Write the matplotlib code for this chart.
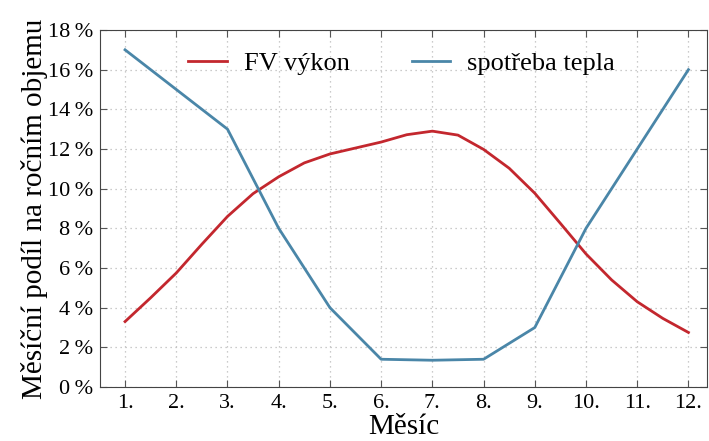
import matplotlib
matplotlib.use("Agg")
import matplotlib.pyplot as plt

# monthly values (%)
months = [1, 2, 3, 4, 5, 6, 7, 8, 9, 10, 11, 12]
month_labels = ["1.", "2.", "3.", "4.", "5.", "6.", "7.", "8.", "9.", "10.", "11.", "12."]
heat = [17.0, 15.0, 13.0, 8.0, 4.0, 1.4, 1.35, 1.4, 3.0, 8.0, 12.0, 16.0]

# PV curve read at half-month steps
pv_x = [1, 1.5, 2, 2.5, 3, 3.5, 4, 4.5, 5, 5.5, 6, 6.5, 7, 7.5, 8, 8.5,
        9, 9.5, 10, 10.5, 11, 11.5, 12]
pv = [3.3, 4.5, 5.75, 7.2, 8.6, 9.75, 10.6, 11.3, 11.75, 12.05, 12.35, 12.72,
      12.9, 12.7, 11.98, 11.03, 9.77, 8.25, 6.71, 5.4, 4.3, 3.46, 2.75]

yticks = [0, 2, 4, 6, 8, 10, 12, 14, 16, 18]

plt.rcParams['font.family'] = ['Liberation Serif', 'DejaVu Serif']

fig = plt.figure(figsize=(7.09, 4.41), dpi=100)
ax = fig.add_axes([0.141, 0.1224, 0.856, 0.8096])

ax.plot(pv_x, pv, color='#c3272e', lw=2.0, label='FV výkon')
ax.plot(months, heat, color='#4a86a8', lw=2.0, label='spotřeba tepla')

ax.set_xlim(0.51, 12.36)
ax.set_ylim(0, 18)
ax.set_xticks(months)
ax.set_xticklabels(month_labels)
ax.set_yticks(yticks)
ax.set_yticklabels([f"{v}\u2009%" for v in yticks])
ax.tick_params(direction='in', top=True, right=True, labelsize=16, length=5,
               color='#555555', pad=5)
ax.grid(True, ls=(0, (1, 3)), color='#bbbbbb', lw=0.9)
for s in ax.spines.values():
    s.set_color('#444444')

ax.set_xlabel("Měsíc", fontsize=21, labelpad=1)
ax.set_ylabel("Měsíční podíl na ročním objemu", fontsize=21, labelpad=0)

ax.legend(loc='upper center', ncol=2, frameon=False, fontsize=19,
          handlelength=1.45, handletextpad=0.65, columnspacing=2.35,
          bbox_to_anchor=(0.497, 1.005))

fig.savefig("out.png", dpi=100)
